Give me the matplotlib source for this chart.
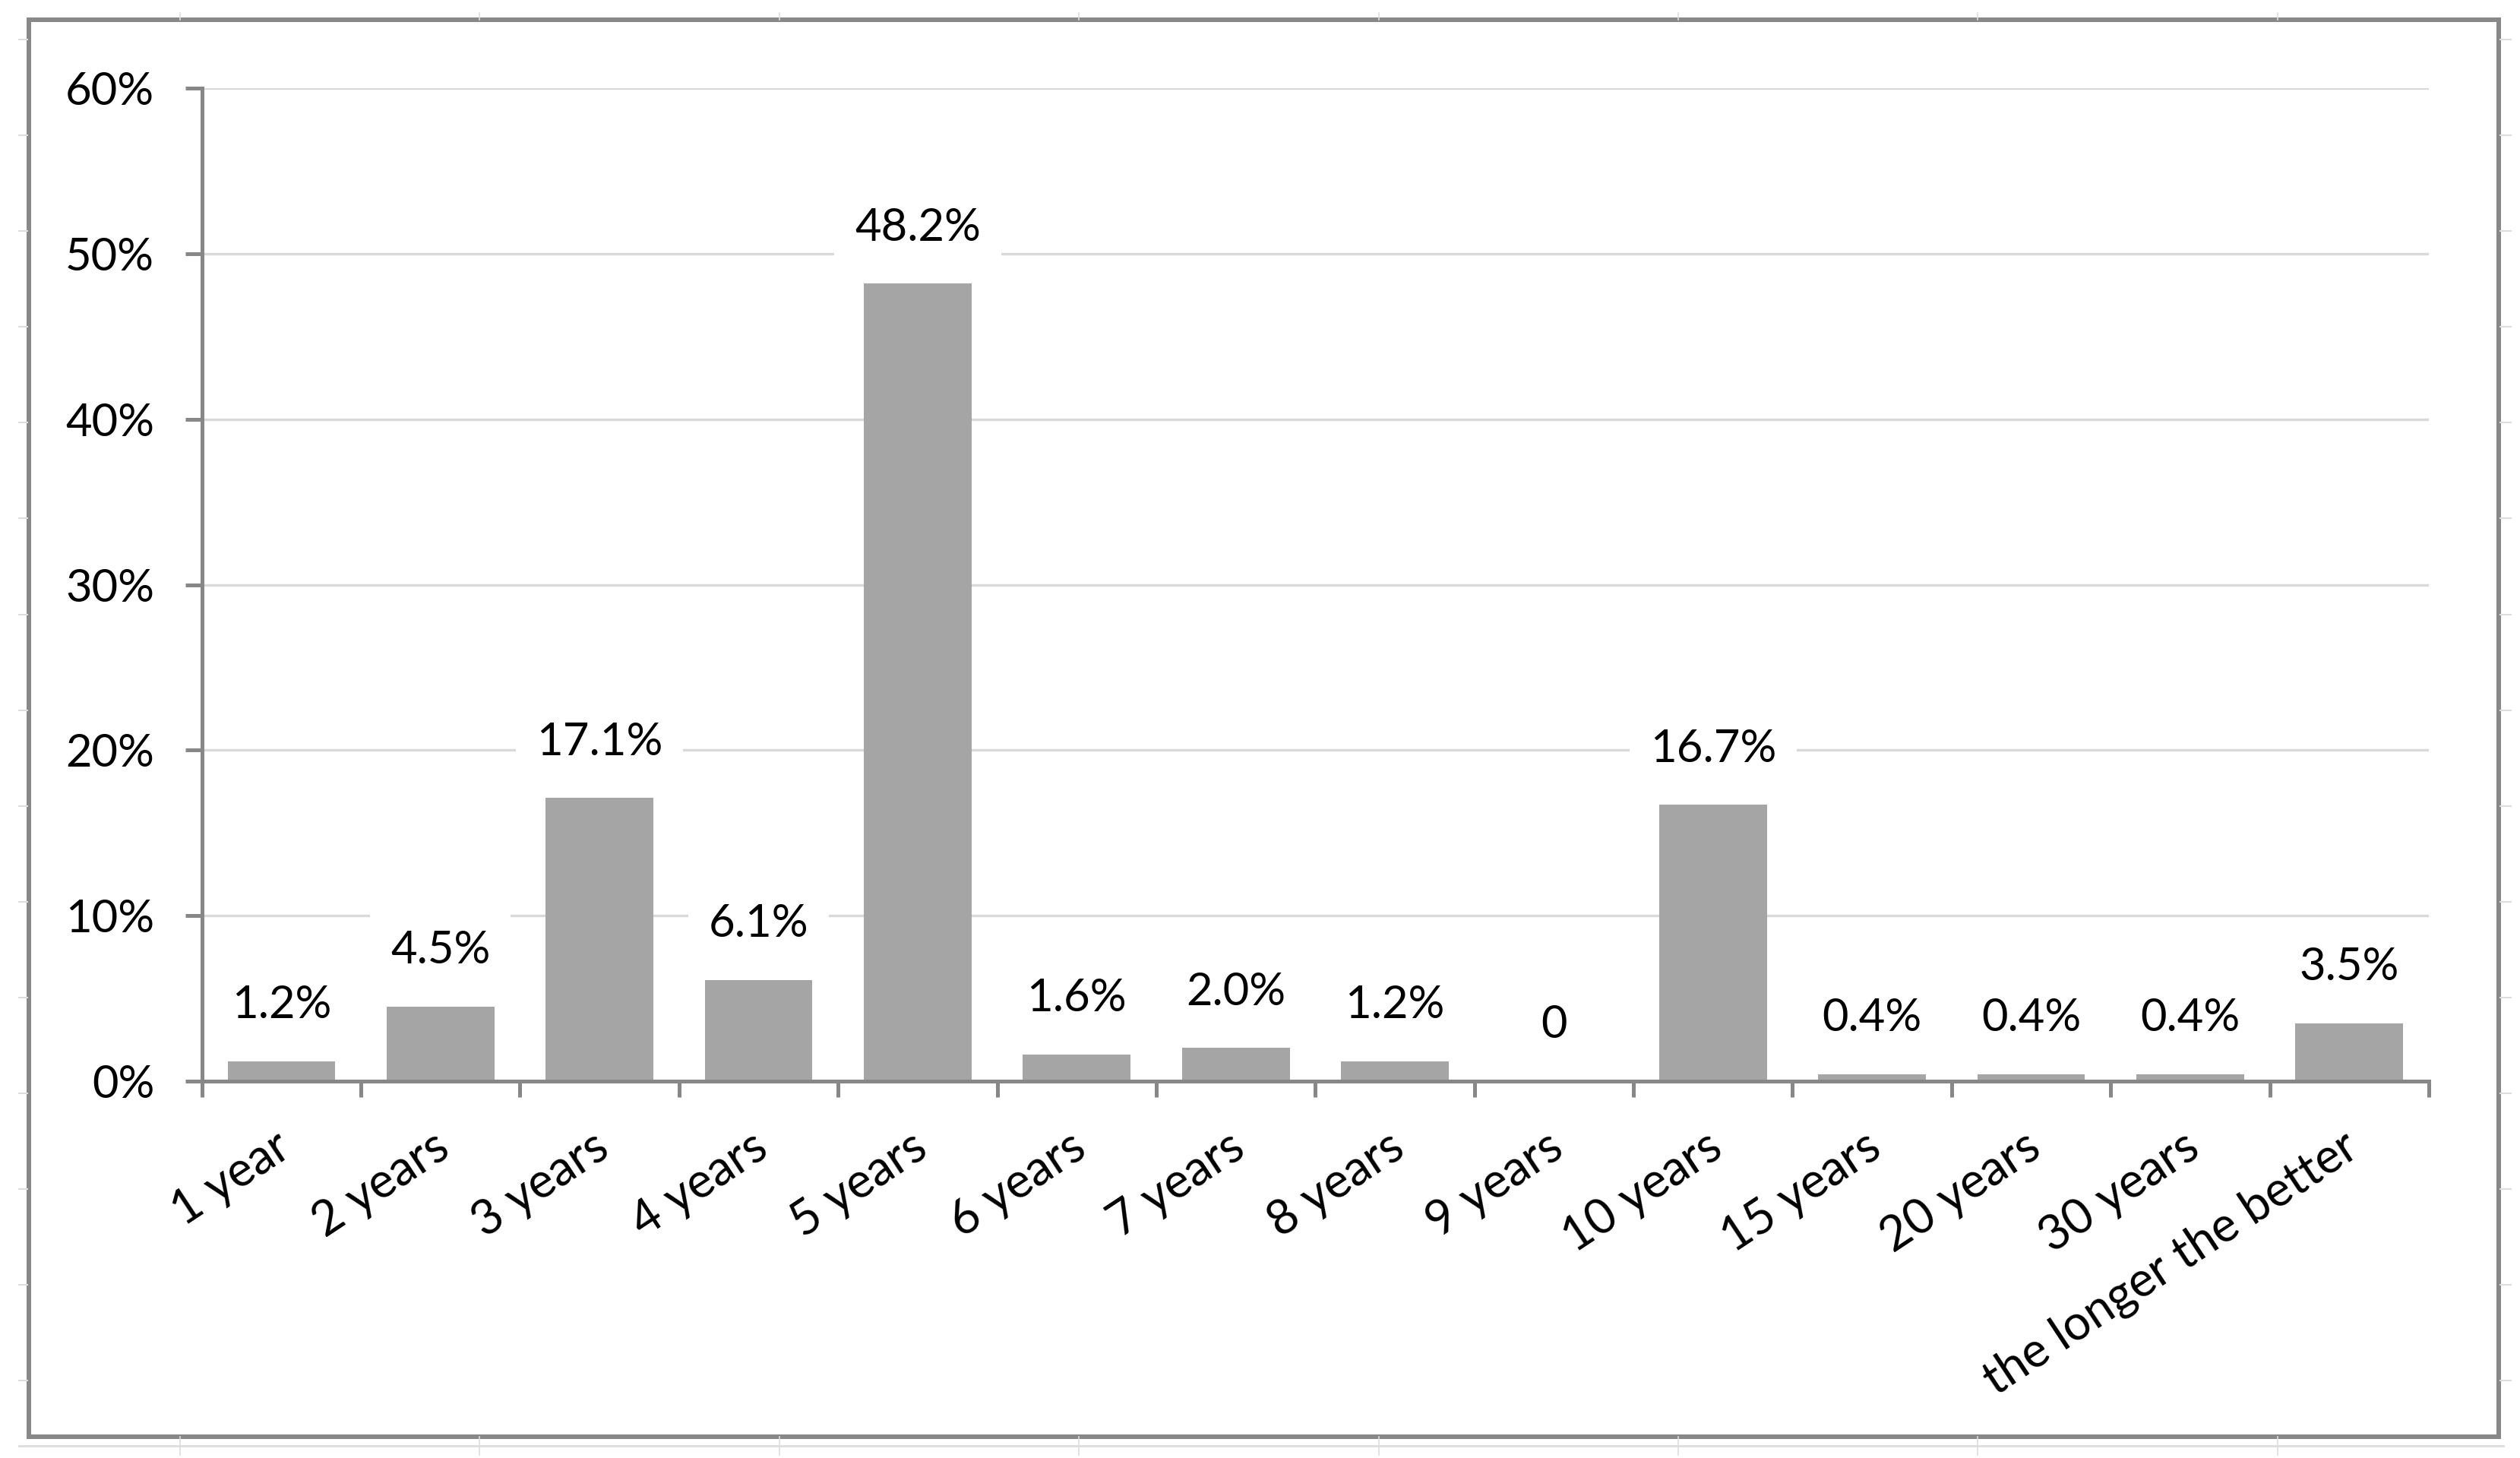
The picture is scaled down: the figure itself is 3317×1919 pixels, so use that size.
import numpy as np
import matplotlib
matplotlib.use("Agg")
import matplotlib.pyplot as plt
import matplotlib.transforms as mtransforms
from matplotlib.patches import Rectangle
from matplotlib.lines import Line2D
from matplotlib.ticker import FixedLocator, PercentFormatter

# ---- data ----
categories = ["1 year", "2 years", "3 years", "4 years", "5 years", "6 years",
              "7 years", "8 years", "9 years", "10 years", "15 years",
              "20 years", "30 years", "the longer the better"]
shares = [1.2, 4.5, 17.1, 6.1, 48.2, 1.6, 2.0, 1.2, 0.0, 16.7, 0.4, 0.4, 0.4, 3.5]
y_ticks = [0, 10, 20, 30, 40, 50, 60]

W, H = 3317, 1919
DPI = 100
plt.rcParams['font.family'] = ['Lato', 'DejaVu Sans']

fig = plt.figure(figsize=(W / DPI, H / DPI), dpi=DPI)
fig.patch.set_facecolor('white')

# axes placement (pixel measurements from reference)
left, right, bottom, top = 265.7, 3197, 1422.7, 116.5
ax = fig.add_axes([left / W, 1 - bottom / H, (right - left) / W, (bottom - top) / H])

x = np.arange(len(categories))
axis_col = '#878787'
grid_col = '#d9d9d9'
bar_col = '#a5a5a5'
fs = 43
fs_x = 45.5

ax.bar(x, shares, width=0.677, color=bar_col, zorder=2)

ax.set_xlim(-0.5, len(categories) - 0.5)
ax.set_ylim(0, 60)
ax.yaxis.set_major_locator(FixedLocator(y_ticks))
ax.yaxis.set_major_formatter(PercentFormatter(100, decimals=0))
ax.grid(axis='y', color=grid_col, linewidth=2.4, zorder=0)
ax.set_axisbelow(True)

for s in ['top', 'right']:
    ax.spines[s].set_visible(False)
for s in ['left', 'bottom']:
    ax.spines[s].set_color(axis_col)
    ax.spines[s].set_linewidth(3.6)
    ax.spines[s].set_zorder(3)

# x ticks at category boundaries, labels at centers
ax.xaxis.set_major_locator(FixedLocator(np.arange(-0.5, len(categories), 1.0)))
ax.xaxis.set_minor_locator(FixedLocator(x))
ax.tick_params(axis='x', which='major', direction='out', length=15, width=3.6,
               color=axis_col, labelbottom=False)
ax.tick_params(axis='x', which='minor', length=0, pad=41, labelsize=fs_x)
ax.set_xticks(x, categories, minor=True)
shift = mtransforms.ScaledTranslation(-10 / DPI, 0, fig.dpi_scale_trans)
for lab in ax.get_xticklabels(minor=True):
    lab.set_rotation(33.5)
    lab.set_rotation_mode('anchor')
    lab.set_ha('right')
    lab.set_va('top')
    lab.set_color('black')
    lab.set_transform(lab.get_transform() + shift)

ax.tick_params(axis='y', direction='out', length=16, width=3.6, color=axis_col,
               pad=29, labelsize=fs, labelcolor='black')

# data labels
for xi, v in zip(x, shares):
    txt = "0" if v == 0 else f"{v:.1f}%"
    ax.annotate(txt, (xi, v), xytext=(0, 53), textcoords='offset points',
                ha='center', va='center', fontsize=fs, color='black', zorder=4,
                bbox=dict(boxstyle='square,pad=0.45', fc='white', ec='none'))

# spreadsheet-like faint lines outside the chart frame
sheet_col = '#dddddd'
col_x = 237 + 394.4 * np.arange(8)
for cx in col_x:
    fig.add_artist(Line2D([cx / W, cx / W], [1 - 17 / H, 1 - 26 / H],
                          transform=fig.transFigure, color=sheet_col, lw=1.2))
    fig.add_artist(Line2D([cx / W, cx / W], [1 - 1891 / H, 1 - 1915 / H],
                          transform=fig.transFigure, color=sheet_col, lw=1.2))
fig.add_artist(Line2D([25 / W, 3295 / W], [1 - 1903 / H, 1 - 1903 / H],
                      transform=fig.transFigure, color=sheet_col, lw=2.0))
row_y = 52 + 126.1 * np.arange(15)
for ry in row_y:
    fig.add_artist(Line2D([25 / W, 36 / W], [1 - ry / H, 1 - ry / H],
                          transform=fig.transFigure, color=sheet_col, lw=1.5))
    fig.add_artist(Line2D([3291 / W, 3305 / W], [1 - ry / H, 1 - ry / H],
                          transform=fig.transFigure, color=sheet_col, lw=1.5))

# chart frame
fig.add_artist(Rectangle((38 / W, 1 - 1891 / H), (3289 - 38) / W, (1891 - 26) / H,
                         transform=fig.transFigure, fill=False, ec='#888888', lw=4.3))

fig.savefig('out.png', dpi=DPI, facecolor='white')
